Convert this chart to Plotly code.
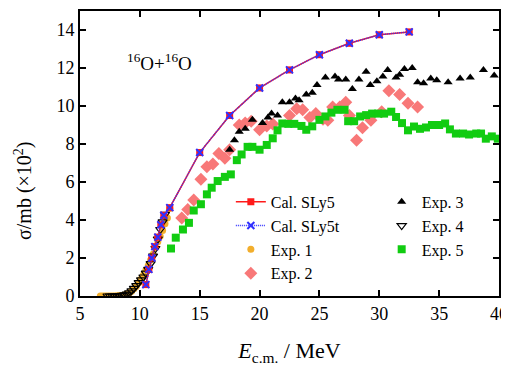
import plotly.graph_objects as go

# Calculations
cal_x = [10.5, 10.75, 11.0, 11.25, 11.5, 11.75, 12.0, 12.5, 15.0, 17.5, 20.0, 22.5, 25.0, 27.5, 30.0, 32.5]
sly5_y = [0.6, 1.4, 2.0, 2.6, 3.1, 3.75, 4.25, 4.65, 7.55, 9.5, 10.95, 11.9, 12.7, 13.3, 13.75, 13.9]
sly5t_y = [0.6, 1.4, 2.0, 2.6, 3.1, 3.75, 4.25, 4.65, 7.55, 9.5, 10.95, 11.9, 12.7, 13.3, 13.75, 13.9]

# Exp. 1
e1_x = [6.7, 6.9, 7.1, 7.3, 7.5, 7.7, 7.9, 8.1, 8.3, 8.5, 8.7, 8.9, 9.1, 9.3, 9.5, 9.7, 9.9, 10.1,
        10.3, 10.5, 10.7, 10.9, 11.1, 11.3, 11.5, 11.7, 11.9, 12.1, 12.3, 12.5]
e1_y = [0, 0, 0, 0, 0, 0, 0, 0.01, 0.02, 0.03, 0.05, 0.1, 0.15, 0.25, 0.38, 0.5, 0.7, 0.9,
        1.1, 1.35, 1.6, 1.9, 2.2, 2.55, 2.85, 3.15, 3.45, 3.8, 4.1, 4.6]

# Exp. 2
e2_x = [13.5, 14.0, 14.5, 15.1, 15.6, 16.1, 16.6, 17.1, 17.5, 18.3, 18.8, 19.3, 20.0, 20.6, 21.1,
        22.5, 23.1, 23.6, 24.2, 24.7, 25.3, 25.7, 26.1, 26.7, 27.2, 27.5, 28.1, 28.6, 29.3, 30.2,
        30.8, 31.7, 32.4, 33.2]
e2_y = [4.1, 4.55, 5.05, 6.15, 6.8, 6.95, 7.5, 7.25, 7.7, 9.0, 9.1, 9.2, 8.75, 8.95, 9.05,
        9.5, 9.85, 9.8, 9.4, 9.6, 9.3, 9.25, 9.95, 9.95, 10.2, 9.5, 8.2, 8.85, 9.25, 9.7,
        10.8, 10.6, 10.15, 9.95]

# Exp. 3
e3_x = [17.5, 17.9, 18.3, 18.8, 19.4, 20.25, 20.7, 21.0, 21.5, 21.9, 22.5, 23.0, 23.3, 23.9, 24.4,
        24.8, 25.5, 26.3, 26.6, 27.2, 27.75, 28.3, 28.9, 29.25, 29.8, 30.3, 30.7, 31.4, 31.7, 32.1,
        32.75, 33.2, 33.7, 34.3, 34.8, 35.75, 36.75, 37.6, 38.7, 39.6]
e3_y = [7.7, 8.2, 8.65, 8.8, 9.27, 9.1, 9.4, 9.6, 9.5, 10.2, 10.2, 10.4, 10.3, 10.6, 10.7,
        11.1, 11.5, 11.55, 11.4, 11.4, 10.9, 11.4, 11.8, 11.1, 11.3, 11.55, 11.9, 11.5, 11.65, 11.95,
        12.0, 11.25, 11.2, 11.45, 11.35, 11.25, 11.45, 11.5, 11.9, 11.6]

# Exp. 4
e4_x = [7.3, 7.5, 7.7, 7.9, 8.1, 8.3, 8.5, 8.7, 8.9, 9.1, 9.3, 9.5, 9.7, 9.9, 10.1, 10.3, 10.5,
        10.7, 10.9, 11.1, 11.3, 11.5, 11.7, 11.9, 12.1]
e4_y = [0, 0, 0, 0, 0.01, 0.02, 0.03, 0.06, 0.1, 0.17, 0.27, 0.4, 0.55, 0.7, 0.85, 1.0, 1.2,
        1.4, 1.7, 2.1, 2.5, 3.0, 3.5, 3.9, 4.3]

# Exp. 5
e5_x = [12.6, 13.0, 13.6, 14.1, 14.5, 15.1, 15.6, 16.0, 16.5, 17.1, 17.6, 18.1, 18.5, 19.0, 19.4,
        20.0, 20.6, 21.1, 21.5, 21.9, 22.4, 22.9, 23.5, 23.9, 24.4, 25.0, 25.5, 26.0, 26.5, 27.1,
        27.4, 27.9, 28.4, 28.9, 29.4, 29.9, 30.4, 31.0, 31.4, 31.9, 32.4, 32.9, 33.4, 33.9, 34.4,
        35.0, 35.5, 35.9, 36.4, 37.0, 37.5, 38.1, 38.5, 38.9, 39.4, 39.9]
e5_y = [2.5, 3.07, 3.5, 3.85, 4.5, 4.83, 5.35, 5.7, 6.05, 6.27, 6.4, 7.15, 7.45, 7.85, 7.85,
        7.7, 7.95, 8.3, 8.72, 9.08, 9.06, 9.06, 8.95, 8.75, 8.93, 9.27, 9.45, 9.65, 9.8, 9.8,
        9.2, 9.2, 9.45, 9.52, 9.6, 9.6, 9.6, 9.7, 9.42, 9.1, 8.72, 8.92, 8.8, 8.87, 9.0,
        9.0, 9.08, 8.77, 8.55, 8.55, 8.5, 8.55, 8.55, 8.28, 8.4, 8.28]

x_ticks = [5, 10, 15, 20, 25, 30, 35, 40]
y_ticks = [0, 2, 4, 6, 8, 10, 12, 14]

FONT = "Liberation Serif"

fig = go.Figure()
fig.add_trace(go.Scatter(x=e1_x, y=e1_y, mode="markers", name="Exp. 1", legendrank=3,
                         marker=dict(symbol="circle", size=7, color="#f2ae2c"), legend="legend"))
fig.add_trace(go.Scatter(x=e2_x, y=e2_y, mode="markers", name="Exp. 2", legendrank=4,
                         marker=dict(symbol="diamond", size=10, color="#f87878"), legend="legend"))
fig.add_trace(go.Scatter(x=e5_x, y=e5_y, mode="markers", name="Exp. 5", legendrank=7,
                         marker=dict(symbol="square", size=8, color="#11cc11"), legend="legend2"))
fig.add_trace(go.Scatter(x=e3_x, y=e3_y, mode="markers", name="Exp. 3", legendrank=5,
                         marker=dict(symbol="triangle-up", size=8, color="black"), legend="legend2"))
fig.add_trace(go.Scatter(x=e4_x, y=e4_y, mode="markers", name="Exp. 4", legendrank=6,
                         marker=dict(symbol="triangle-down-open", size=8, color="black",
                                     line=dict(width=1.2)), legend="legend2"))
fig.add_trace(go.Scatter(x=cal_x, y=sly5_y, mode="lines+markers", name="Cal. SLy5", legendrank=1,
                         line=dict(color="#ff1a1a", width=1.5),
                         marker=dict(symbol="square", size=7, color="#ff1a1a"), legend="legend"))
fig.add_trace(go.Scatter(x=cal_x, y=sly5t_y, mode="lines+markers", name="Cal. SLy5t", legendrank=2,
                         line=dict(color="#3030ff", width=1.5, dash="1px,1px"),
                         marker=dict(symbol="x-thin-open", size=7, color="#3030ff",
                                     line=dict(width=2, color="#3030ff")), legend="legend"))

fig.update_layout(
    width=509, height=374,
    margin=dict(l=72, r=18, t=1, b=86),
    plot_bgcolor="white", paper_bgcolor="white",
    font=dict(family=FONT, size=18, color="black"),
    xaxis=dict(range=[5, 40], tickvals=x_ticks, ticktext=[str(v) for v in x_ticks],
               showline=True, linecolor="black", linewidth=2, mirror="ticks",
               ticks="inside", ticklen=6, tickwidth=1.5, tickcolor="black",
               tickfont=dict(family=FONT, size=18),
               showgrid=False, zeroline=False,
               title=dict(text="<i>E</i><sub>c.m.</sub> / MeV", font=dict(family=FONT, size=22), standoff=20)),
    yaxis=dict(range=[0, 15], tickvals=y_ticks, ticktext=[str(v) for v in y_ticks],
               showline=True, linecolor="black", linewidth=2, mirror="ticks",
               ticks="inside", ticklen=6, tickwidth=1.5, tickcolor="black",
               tickfont=dict(family=FONT, size=18),
               showgrid=False, zeroline=False),
    legend=dict(x=0.36, y=0.39, xanchor="left", yanchor="top", bgcolor="rgba(0,0,0,0)",
                font=dict(family=FONT, size=16), traceorder="normal",
                itemwidth=30, tracegroupgap=0),
    legend2=dict(x=0.72, y=0.39, xanchor="left", yanchor="top", bgcolor="rgba(0,0,0,0)",
                 font=dict(family=FONT, size=16), traceorder="normal",
                 itemwidth=30, tracegroupgap=0),
    showlegend=True,
)

fig.add_annotation(x=-0.135, y=0.37, xref="paper", yref="paper", xanchor="center", yanchor="middle",
                   text="σ/mb (×10<sup>2</sup>)", textangle=-90, showarrow=False,
                   font=dict(family=FONT, size=20, color="black"))

fig.add_annotation(x=0.107, y=0.822, xref="paper", yref="paper", xanchor="left", yanchor="middle",
                   text="<sup>16</sup>O+<sup>16</sup>O", showarrow=False,
                   font=dict(family=FONT, size=19, color="black"))

fig.write_html("out.html")
